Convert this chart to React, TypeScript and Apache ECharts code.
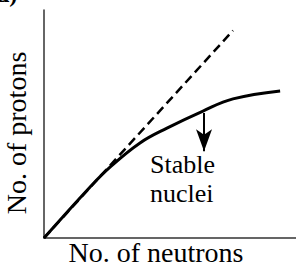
import React, { useEffect, useRef } from "react";
import * as echarts from "echarts";

const panelLabel = "(d)";
const xTitle = "No. of neutrons";
const yTitle = "No. of protons";
const curveLabel = "Stable\nnuclei";

// dashed reference line (N = Z) in data units
const dashedLine: [number, number][] = [
  [0, 0],
  [75, 91],
];

// stable nuclei curve
const stableCurve: [number, number][] = [
  [0, 0],
  [18.3, 22.4],
  [26.2, 31.1],
  [38.1, 41.7],
  [48.8, 48.2],
  [63.1, 55.7],
  [75, 61],
  [93.7, 64.5],
];

// arrow from the curve downward
const arrowX = 63.5;
const arrowFrom = 54.8;
const arrowTo = 38;

const FONT = "'Liberation Serif', 'Times New Roman', serif";

export default function App() {
  const ref = useRef<HTMLDivElement>(null);
  useEffect(() => {
    if (!ref.current) return;
    const chart = echarts.init(ref.current, undefined, { renderer: "svg" });
    chart.setOption({
      animation: false,
      backgroundColor: "#fff",
      grid: { left: 44, right: 0, top: 10, bottom: 26 },
      xAxis: {
        type: "value",
        min: 0,
        max: 100,
        axisLine: { show: true, lineStyle: { color: "#333", width: 1.5 } },
        axisTick: { show: false },
        axisLabel: { show: false },
        splitLine: { show: false },
      },
      yAxis: {
        type: "value",
        min: 0,
        max: 100,
        axisLine: { show: true, lineStyle: { color: "#333", width: 1.5 } },
        axisTick: { show: false },
        axisLabel: { show: false },
        splitLine: { show: false },
      },
      series: [
        {
          type: "line",
          data: dashedLine,
          symbol: "none",
          lineStyle: { color: "#000", width: 2.5, type: [9, 5] },
        },
        {
          type: "line",
          data: stableCurve,
          symbol: "none",
          smooth: 0.4,
          lineStyle: { color: "#000", width: 3 },
          markLine: {
            silent: true,
            symbol: ["none", "arrow"],
            symbolSize: [12, 22],
            label: { show: false },
            lineStyle: { color: "#000", width: 2, type: "solid" },
            data: [
              [
                { coord: [arrowX, arrowFrom] },
                { coord: [arrowX, arrowTo] },
              ],
            ],
          },
        },
      ],
      graphic: [
        {
          type: "text",
          x: -12,
          y: -18,
          style: { text: panelLabel, font: `bold 24px ${FONT}`, fill: "#000", verticalAlign: "top" },
        },
        {
          type: "text",
          x: 156,
          y: 238,
          style: {
            text: xTitle,
            font: `28px ${FONT}`,
            fill: "#000",
            align: "center",
            verticalAlign: "top",
          },
        },
        {
          type: "text",
          x: 2,
          y: 133,
          rotation: Math.PI / 2,
          style: {
            text: yTitle,
            font: `28px ${FONT}`,
            fill: "#000",
            align: "center",
            verticalAlign: "top",
          },
        },
        {
          type: "text",
          x: 150,
          y: 150,
          style: {
            text: curveLabel,
            font: `26px ${FONT}`,
            lineHeight: 29,
            fill: "#000",
            align: "left",
            verticalAlign: "top",
          },
        },
      ],
    });
    return () => chart.dispose();
  }, []);
  return (
    <div
      ref={ref}
      style={{ position: "fixed", left: 0, top: 0, width: 296, height: 264 }}
    />
  );
}
